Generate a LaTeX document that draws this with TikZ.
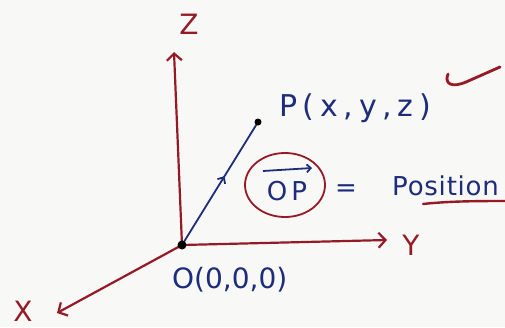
\documentclass[tikz,border=0pt]{standalone}
\usepackage{fontspec}
\setmainfont{DejaVu Sans}
\newfontfamily\handP[LetterSpace=19]{DejaVu Sans}
\newfontfamily\handO[LetterSpace=0]{DejaVu Sans}
\newfontfamily\handQ[LetterSpace=3]{DejaVu Sans}
\newfontfamily\handV[LetterSpace=15]{DejaVu Sans}
\usetikzlibrary{arrows.meta,decorations.markings}
\definecolor{axisred}{HTML}{951A26}
\definecolor{inkblue}{HTML}{1E2C7C}
\definecolor{paper}{HTML}{F8F8F6}
\begin{document}
\begin{tikzpicture}[x=1pt,y=-1pt,
  axis/.style={draw=axisred, line width=2.2pt, line cap=round,
    -{Straight Barb[length=7pt,width=15pt,line width=2.2pt]}},
  axislabel/.style={text=axisred, font=\fontsize{28}{30}\selectfont, inner sep=0pt},
  bluetext/.style={text=inkblue, inner sep=0pt},
  vec/.style={draw=inkblue, line width=1.8pt, line cap=round},
  dotstyle/.style={fill=black}]
\fill[paper] (0,0) rectangle (505,327);
\clip (0,0) rectangle (505,327);
% points
\coordinate (O) at (182,245);
\coordinate (P) at (258,122);
\coordinate (zt) at (174,52);
\coordinate (yt) at (387,240);
\coordinate (xt) at (57,313);
% axes
\draw[axis] (O) -- (zt);
\draw[axis] (O) -- (yt);
\draw[axis] (O) -- (xt);
% axis labels
\node[axislabel] (zl) at (189,24) {Z};
\node[axislabel] (yl) at (411,245) {Y};
\node[axislabel] (xl) at (23,311) {X};
% position vector
\draw[vec, decoration={markings, mark=at position 0.56 with {\arrow{Straight Barb[length=5pt,width=9pt,line width=1.8pt]}}}, postaction={decorate}] (O) -- (P);
\fill[dotstyle] (O) circle (4.5);
\fill[dotstyle] (P) circle (3.5);
% labels
\node[bluetext, anchor=base west, font=\handP\fontsize{30}{32}\selectfont] (pl) at (279,116) {P(x,y,z)};
\node[bluetext, anchor=base west, font=\handO\fontsize{28}{30}\selectfont] (ol) at (172,288) {O(0,0,0)};
% circled OP
\node[bluetext, font=\handV\fontsize{26}{28}\selectfont] (op) at (287,191) {OP};
\draw[inkblue, line width=1.8pt, -{Straight Barb[length=4pt,width=8pt,line width=1.8pt]}] (263,171) -- (312,168);
\draw[axisred, line width=1.8pt] (285,185) ellipse (40 and 32);
\node[bluetext, font=\fontsize{26}{28}\selectfont] (eq) at (346,191) {=};
\node[bluetext, anchor=base west, font=\handQ\fontsize{26}{28}\selectfont] (pos) at (392,195) {Position};
% red underline and tick
\draw[axisred, line width=2.4pt, line cap=round] (423,204) .. controls (450,201) and (480,201) .. (510,201);
\draw[axisred, line width=2.8pt, line cap=round, line join=round] (448,74) .. controls (444,84) and (452,88) .. (466,82) -- (500,67);
\end{tikzpicture}
\end{document}
